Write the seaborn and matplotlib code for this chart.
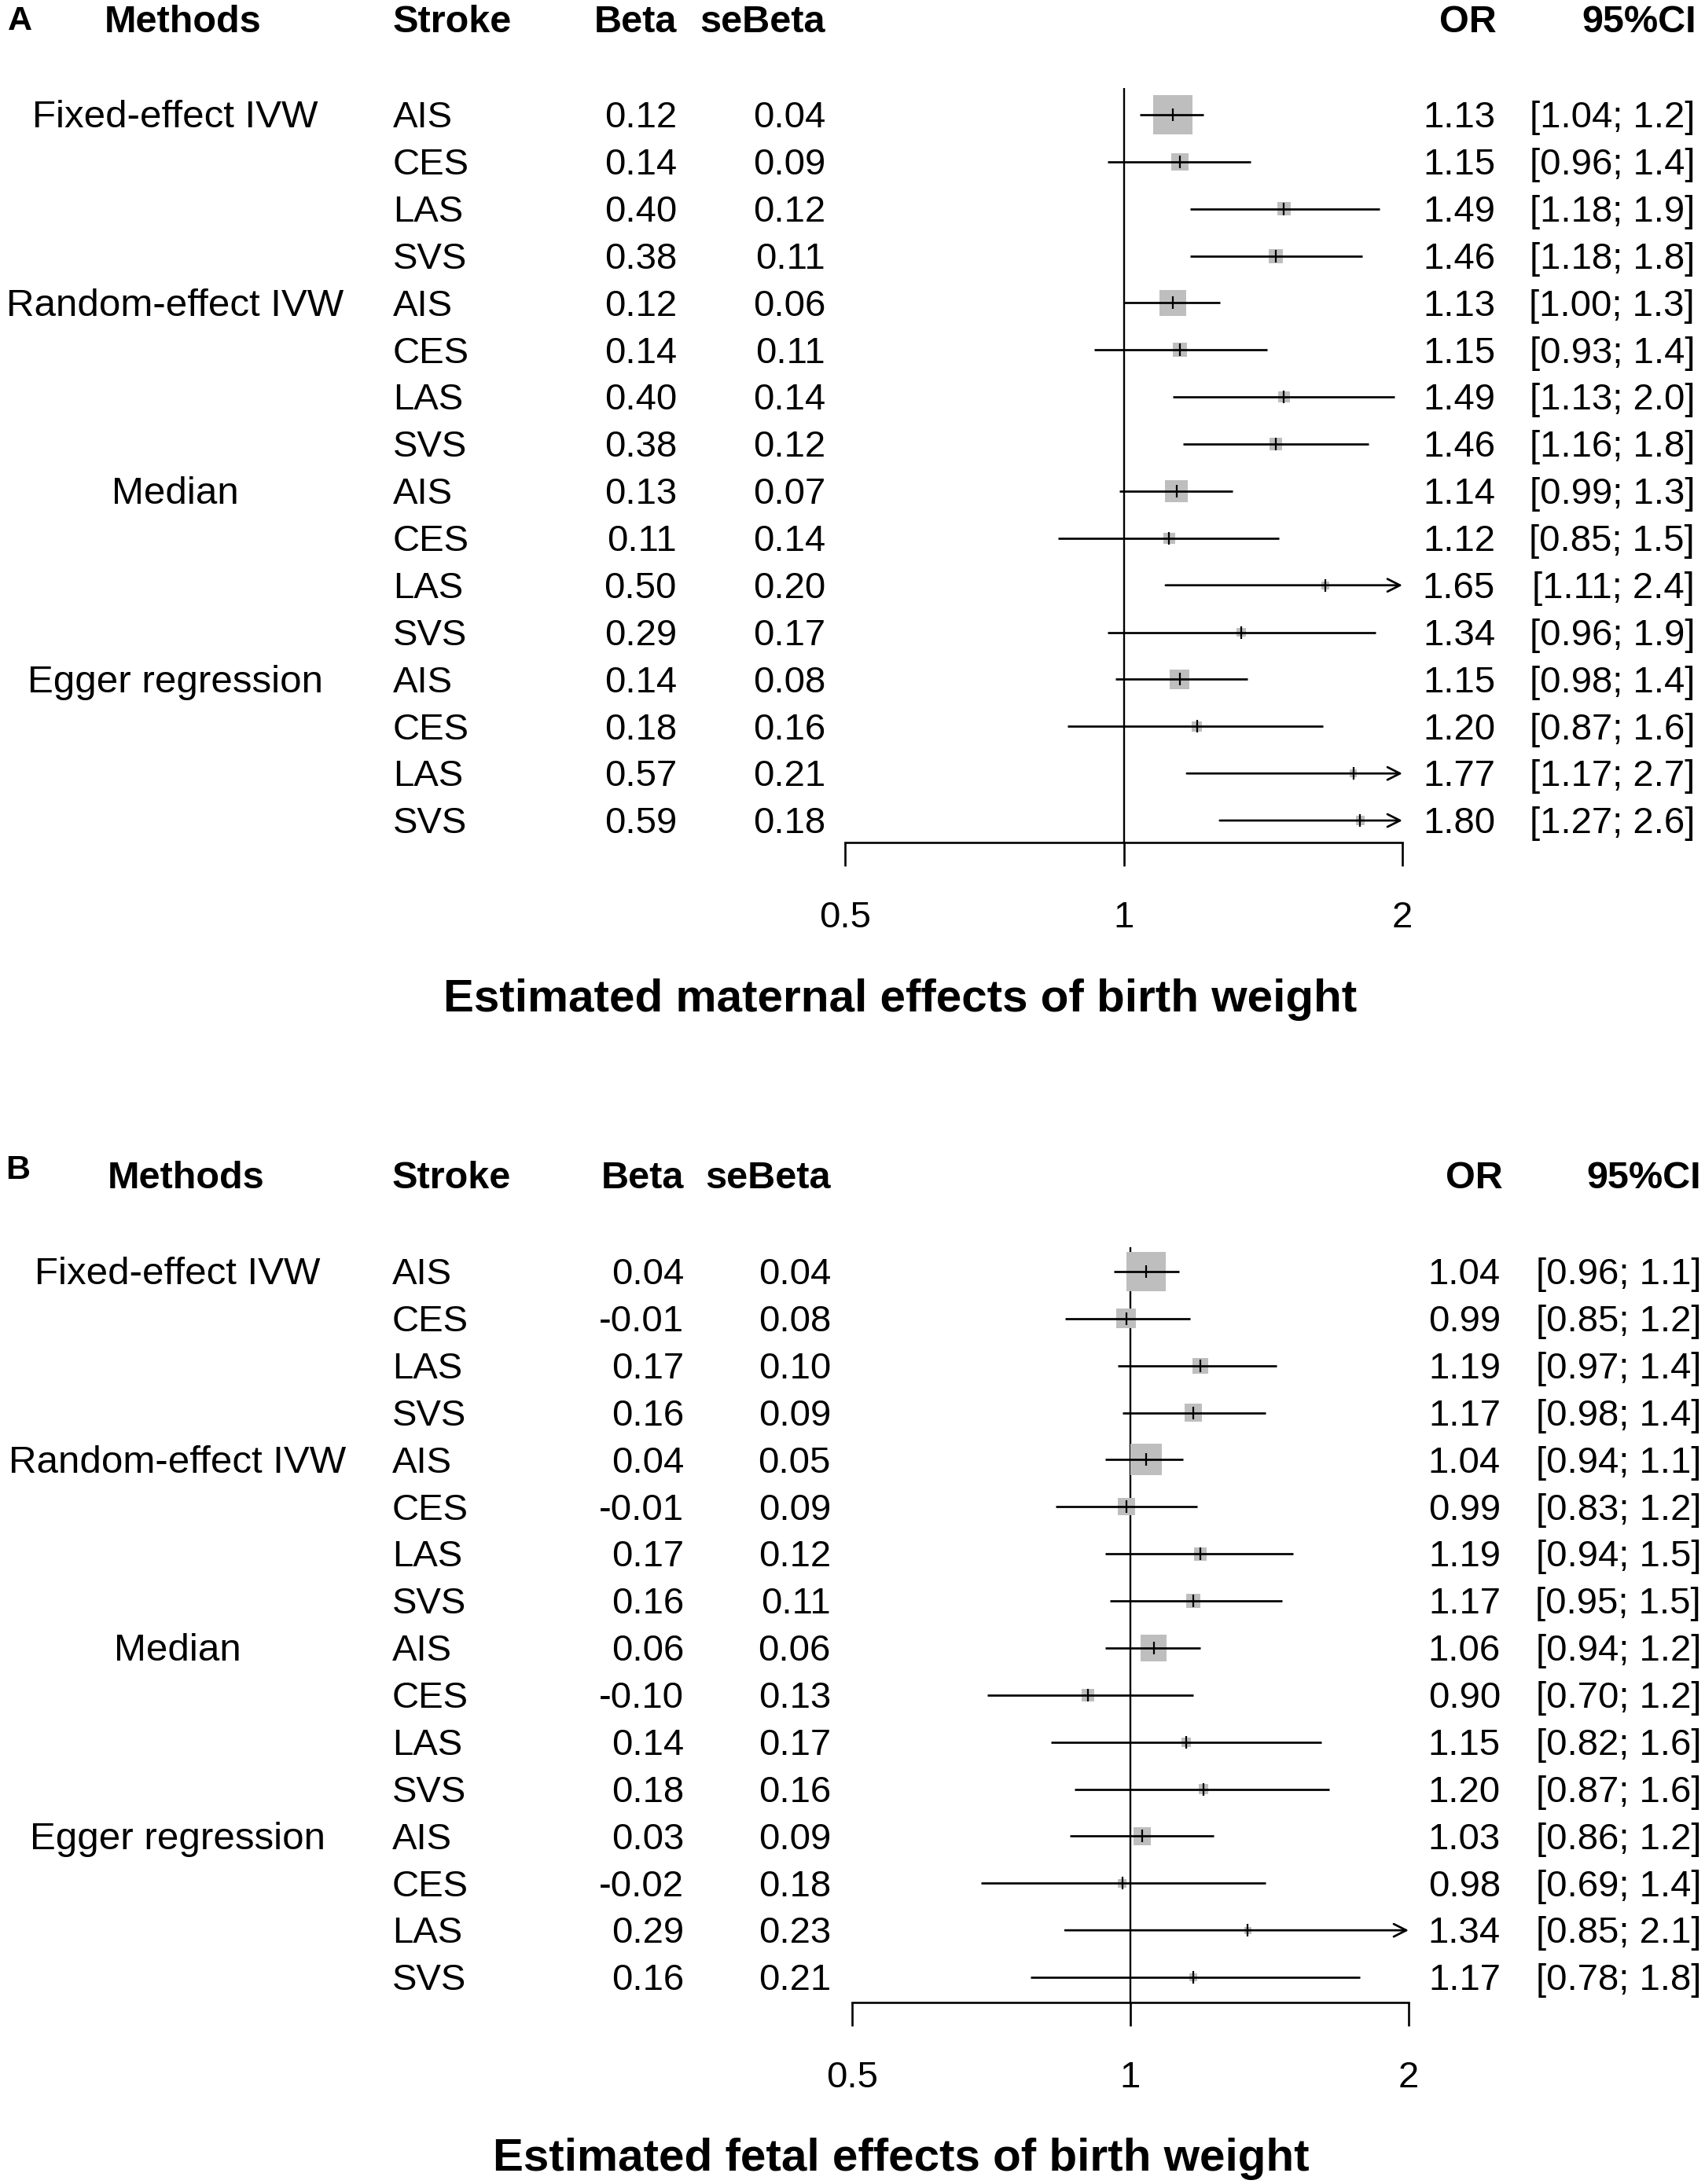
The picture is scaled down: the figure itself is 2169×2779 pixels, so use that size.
import numpy as np
import pandas as pd
import matplotlib
matplotlib.use("Agg")
import matplotlib.pyplot as plt
import matplotlib.transforms as mtransforms
from matplotlib.ticker import FixedLocator, NullLocator
import seaborn as sns

# ---------------- data ----------------
methods = ["Fixed-effect IVW", "Random-effect IVW", "Median", "Egger regression"]
strokes = ["AIS", "CES", "LAS", "SVS"]

A_beta = [0.12, 0.14, 0.40, 0.38, 0.12, 0.14, 0.40, 0.38, 0.13, 0.11, 0.50, 0.29, 0.14, 0.18, 0.57, 0.59]
A_se = [0.04, 0.09, 0.12, 0.11, 0.06, 0.11, 0.14, 0.12, 0.07, 0.14, 0.20, 0.17, 0.08, 0.16, 0.21, 0.18]
A_or = [1.13, 1.15, 1.49, 1.46, 1.13, 1.15, 1.49, 1.46, 1.14, 1.12, 1.65, 1.34, 1.15, 1.20, 1.77, 1.80]
A_lo = [1.04, 0.96, 1.18, 1.18, 1.00, 0.93, 1.13, 1.16, 0.99, 0.85, 1.11, 0.96, 0.98, 0.87, 1.17, 1.27]
A_hi = [1.22, 1.37, 1.89, 1.81, 1.27, 1.43, 1.96, 1.84, 1.31, 1.47, 2.44, 1.87, 1.36, 1.64, 2.67, 2.57]

B_beta = [0.04, -0.01, 0.17, 0.16, 0.04, -0.01, 0.17, 0.16, 0.06, -0.10, 0.14, 0.18, 0.03, -0.02, 0.29, 0.16]
B_se = [0.04, 0.08, 0.10, 0.09, 0.05, 0.09, 0.12, 0.11, 0.06, 0.13, 0.17, 0.16, 0.09, 0.18, 0.23, 0.21]
B_or = [1.04, 0.99, 1.19, 1.17, 1.04, 0.99, 1.19, 1.17, 1.06, 0.90, 1.15, 1.20, 1.03, 0.98, 1.34, 1.17]
B_lo = [0.96, 0.85, 0.97, 0.98, 0.94, 0.83, 0.94, 0.95, 0.94, 0.70, 0.82, 0.87, 0.86, 0.69, 0.85, 0.78]
B_hi = [1.13, 1.16, 1.44, 1.40, 1.14, 1.18, 1.50, 1.46, 1.19, 1.17, 1.61, 1.64, 1.23, 1.40, 2.10, 1.77]

x_ticks = [0.5, 1, 2]
x_tick_labels = ["0.5", "1", "2"]
titles = ["Estimated maternal effects of birth weight", "Estimated fetal effects of birth weight"]
panel_labels = ["A", "B"]
headers = ["Methods", "Stroke", "Beta", "seBeta", "OR", "95%CI"]

# ---------------- style ----------------
sns.set_style("white")
plt.rcParams["font.family"] = ["Liberation Sans", "DejaVu Sans"]
plt.rcParams["text.color"] = "black"
plt.rcParams["xtick.color"] = "black"
plt.rcParams["xtick.labelcolor"] = "black"
plt.rcParams["axes.labelcolor"] = "black"

W, H = 2169, 2779
DPI = 100
fig = plt.figure(figsize=(W / DPI, H / DPI), dpi=DPI)
fig.patch.set_facecolor("white")

ROW_SP = 59.87
FS = 34
FS_M = 35.5
FS_H = 35
BOX_GRAY = "#BEBEBE"


def fy(py):
    return 1 - py / H


def fx(px):
    return px / W


def draw_panel(beta, se, orv, lo, hi, lay):
    n = len(orv)
    rows = np.arange(1, n + 1)
    row1 = lay["row1"]
    axis_px = lay["axis_px"]
    top_px = row1 - 90
    r_bottom = 1 + (axis_px - row1) / ROW_SP
    r_top = 1 + (top_px - row1) / ROW_SP
    ax = fig.add_axes([fx(lay["x0"]), fy(axis_px), fx(lay["x1"]) - fx(lay["x0"]),
                       (axis_px - top_px) / H])

    df = pd.DataFrame({"row": rows, "OR": orv, "lo": lo, "hi": hi, "se": se})
    df["box_pt"] = (2.0 / df["se"]) * 0.72
    df["area"] = df["box_pt"] ** 2

    # boxes (weight)
    sns.scatterplot(data=df, x="OR", y="row", marker="s", s=df["area"].to_numpy(),
                    color=BOX_GRAY, linewidth=0, ax=ax, zorder=2, legend=False)
    # estimate tick
    sns.scatterplot(data=df, x="OR", y="row", marker="|", s=117, color="black",
                    linewidth=1.6, ax=ax, zorder=4, legend=False)

    ax.set_xscale("log", base=2)
    ax.set_xlim(0.5, 2)
    ax.set_ylim(r_bottom, r_top)
    ax.patch.set_alpha(0)
    for s in ["top", "left", "right"]:
        ax.spines[s].set_visible(False)
    ax.spines["bottom"].set_linewidth(1.9)
    ax.spines["bottom"].set_color("black")
    ax.xaxis.set_major_locator(FixedLocator(x_ticks))
    ax.xaxis.set_minor_locator(NullLocator())
    ax.set_xticklabels(x_tick_labels)
    ax.tick_params(axis="x", direction="out", length=21.6, width=1.9, pad=31.5,
                   labelsize=FS, colors="black", bottom=True)
    ax.set_yticks([])
    ax.set_xlabel("")
    ax.set_ylabel("")

    # reference line at OR = 1
    r_ref_top = 1 + (lay["ref_top"] - row1) / ROW_SP
    ax.vlines(1, r_ref_top, r_bottom, color="black", lw=1.7, zorder=1)

    # CI lines
    inside = df[df["hi"] <= 2]
    ax.hlines(inside["row"], inside["lo"], inside["hi"], color="black", lw=1.95, zorder=3)
    outside = df[df["hi"] > 2]
    for _, rr in outside.iterrows():
        ax.annotate("", xy=(2, rr["row"]), xytext=(rr["lo"], rr["row"]),
                    xycoords="data", textcoords="data", annotation_clip=False,
                    arrowprops=dict(arrowstyle="->,head_length=1.15,head_width=0.58",
                                    mutation_scale=10, lw=1.95, color="black",
                                    shrinkA=0, shrinkB=0), zorder=3)

    # ---------- text columns ----------
    tr = mtransforms.blended_transform_factory(fig.transFigure, ax.transData)
    boff = 16.2 / ROW_SP
    for i, r in enumerate(rows):
        y = r + boff
        if i % 4 == 0:
            ax.text(fx(lay["meth_c"]), y, methods[i // 4], transform=tr, ha="center",
                    va="baseline", fontsize=FS_M, clip_on=False)
        ax.text(fx(lay["stroke_l"]), y, strokes[i % 4], transform=tr, ha="left",
                va="baseline", fontsize=FS, clip_on=False)
        ax.text(fx(lay["beta_r"]), y, f"{beta[i]:.2f}", transform=tr, ha="right",
                va="baseline", fontsize=FS, clip_on=False)
        ax.text(fx(lay["se_r"]), y, f"{se[i]:.2f}", transform=tr, ha="right",
                va="baseline", fontsize=FS, clip_on=False)
        ax.text(fx(lay["or_r"]), y, f"{orv[i]:.2f}", transform=tr, ha="right",
                va="baseline", fontsize=FS, clip_on=False)
        ax.text(fx(lay["ci_r"]), y, f"[{lo[i]:.2f}; {hi[i]:.1f}]", transform=tr,
                ha="right", va="baseline", fontsize=FS, clip_on=False)

    # headers
    hb = fy(lay["head_base"])
    kw = dict(va="baseline", fontsize=FS_H, fontweight="bold", color="black")
    fig.text(fx(lay["meth_hc"]), hb, headers[0], ha="center", **kw)
    fig.text(fx(lay["stroke_l"]), hb, headers[1], ha="left", **kw)
    fig.text(fx(lay["beta_r"]), hb, headers[2], ha="right", **kw)
    fig.text(fx(lay["se_r"]), hb, headers[3], ha="right", **kw)
    fig.text(fx(lay["or_hr"]), hb, headers[4], ha="right", **kw)
    fig.text(fx(lay["ci_hr"]), hb, headers[5], ha="right", **kw)
    # panel label
    fig.text(fx(lay["lab_l"]), fy(lay["lab_base"]), lay["label"], ha="left",
             va="baseline", fontsize=31, fontweight="bold", color="black")
    # title
    fig.text(fx(lay["title_c"]), fy(lay["title_base"]), lay["title"], ha="center",
             va="baseline", fontsize=42, fontweight="bold", color="black")
    return ax


layA = dict(row1=146, axis_px=1072, ref_top=112, x0=1075, x1=1784,
            meth_c=223, meth_hc=233, stroke_l=500, beta_r=861, se_r=1050,
            or_r=1902, ci_r=2156, or_hr=1904, ci_hr=2158, head_base=41,
            lab_l=10, lab_base=38, label=panel_labels[0],
            title_c=1145, title_base=1287, title=titles[0])
layB = dict(row1=1618, axis_px=2548, ref_top=1587, x0=1084, x1=1792,
            meth_c=226, meth_hc=237, stroke_l=499, beta_r=870, se_r=1057,
            or_r=1909, ci_r=2164, or_hr=1912, ci_hr=2164, head_base=1512,
            lab_l=7, lab_base=1500, label=panel_labels[1],
            title_c=1146, title_base=2762, title=titles[1])

draw_panel(A_beta, A_se, A_or, A_lo, A_hi, layA)
draw_panel(B_beta, B_se, B_or, B_lo, B_hi, layB)

fig.savefig("out.png", dpi=DPI, facecolor="white")
